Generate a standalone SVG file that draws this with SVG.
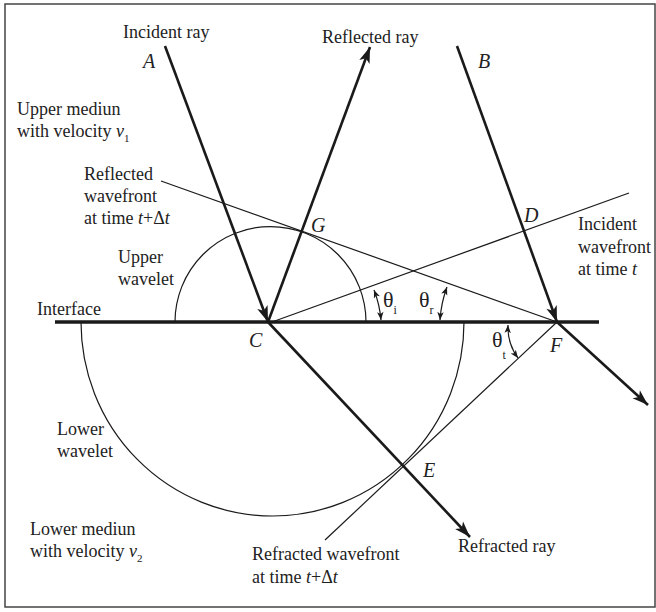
<svg xmlns="http://www.w3.org/2000/svg" width="656" height="612" viewBox="0 0 656 612">
<defs>
<style>
text{font-family:"Liberation Serif","Times New Roman",serif;font-size:18px;fill:#222}
.it{font-style:italic}
.lab{font-style:italic;font-size:20px}
.ray{stroke:#1a1a1a;stroke-width:2.6;fill:none}
.thin{stroke:#1a1a1a;stroke-width:1.2;fill:none}
.ang{stroke:#1a1a1a;stroke-width:1.2;fill:none;marker-start:url(#sa);marker-end:url(#sa)}
.sub{font-size:11px}
.th{font-size:22px}
.ths{font-size:12px}
</style>
<marker id="arr" viewBox="-17 -6 18 12" markerWidth="18" markerHeight="12" refX="0" refY="0" orient="auto" markerUnits="userSpaceOnUse"><path d="M0,0 L-16,-5.5 L-12,0 L-16,5.5 Z" fill="#1a1a1a"/></marker>
<marker id="sa" viewBox="-9 -4 10 8" markerWidth="10" markerHeight="8" refX="0" refY="0" orient="auto-start-reverse" markerUnits="userSpaceOnUse"><path d="M0,0 L-8,-3.2 L-6,0 L-8,3.2 Z" fill="#1a1a1a"/></marker>
</defs>
<rect x="5" y="4" width="650" height="603" fill="#fff" stroke="#444" stroke-width="1.5"/>

<g id="wavelets">
<path id="upper-wavelet" class="thin" d="M175 322 A95 95 0 0 1 366 322"/>
<path id="lower-wavelet" class="thin" d="M81 322 A191.5 194 0 0 0 464 322"/>
</g>

<g id="connectors">
<line id="interface" x1="55" y1="322" x2="599" y2="322" stroke="#1a1a1a" stroke-width="3.5"/>
<line id="incident-wavefront" class="thin" x1="272" y1="322" x2="629" y2="193"/>
<line id="reflected-wavefront" class="thin" x1="161" y1="181" x2="557" y2="322"/>
<line id="refracted-wavefront" class="thin" x1="557" y1="322" x2="325" y2="540"/>
<line id="ray-AC" class="ray" x1="165" y1="46" x2="268" y2="322" marker-end="url(#arr)"/>
<line id="ray-reflected" class="ray" x1="268" y1="322" x2="370" y2="47" marker-end="url(#arr)"/>
<line id="ray-BF" class="ray" x1="457" y1="46" x2="557" y2="322" marker-end="url(#arr)"/>
<line id="ray-F-out" class="ray" x1="557" y1="322" x2="648" y2="405" marker-end="url(#arr)"/>
<line id="ray-refracted" class="ray" x1="268" y1="322" x2="470" y2="537" marker-end="url(#arr)"/>
<path id="arc-theta-i" class="ang" d="M381 320 A108 108 0 0 0 374 290"/>
<path id="arc-theta-r" class="ang" d="M440 320 A116 116 0 0 1 447 287"/>
<path id="arc-theta-t" class="ang" d="M508 325 A52 52 0 0 0 518 358"/>
</g>

<g id="labels">
<text x="123" y="38">Incident ray</text>
<text x="322" y="43">Reflected ray</text>
<text x="17" y="115">Upper mediun</text>
<text x="17" y="137">with velocity <tspan class="it">v</tspan><tspan class="sub" dy="5">1</tspan></text>
<text x="84" y="180">Reflected</text>
<text x="84" y="202">wavefront</text>
<text x="84" y="224">at time <tspan class="it">t</tspan>+Δ<tspan class="it">t</tspan></text>
<text x="118" y="263">Upper</text>
<text x="118" y="285">wavelet</text>
<text x="37" y="315">Interface</text>
<text x="578" y="230">Incident</text>
<text x="578" y="253">wavefront</text>
<text x="578" y="275">at time <tspan class="it">t</tspan></text>
<text x="57" y="435">Lower</text>
<text x="57" y="457">wavelet</text>
<text x="30" y="535">Lower mediun</text>
<text x="30" y="557">with velocity <tspan class="it">v</tspan><tspan class="sub" dy="5">2</tspan></text>
<text x="252" y="560">Refracted wavefront</text>
<text x="252" y="583">at time <tspan class="it">t</tspan>+Δ<tspan class="it">t</tspan></text>
<text x="458" y="552">Refracted ray</text>
</g>

<g id="points">
<text class="lab" x="143" y="68">A</text>
<text class="lab" x="478" y="68">B</text>
<text class="lab" x="311" y="232">G</text>
<text class="lab" x="524" y="222">D</text>
<text class="lab" x="249" y="347">C</text>
<text class="lab" x="423" y="477">E</text>
<text class="lab" x="550" y="352">F</text>
</g>

<g id="angles">
<text class="th" x="383" y="307">θ<tspan class="ths" dy="7">i</tspan></text>
<text class="th" x="419" y="307">θ<tspan class="ths" dy="7">r</tspan></text>
<text class="th" x="492" y="347">θ<tspan class="ths" dy="12">t</tspan></text>
</g>
</svg>
